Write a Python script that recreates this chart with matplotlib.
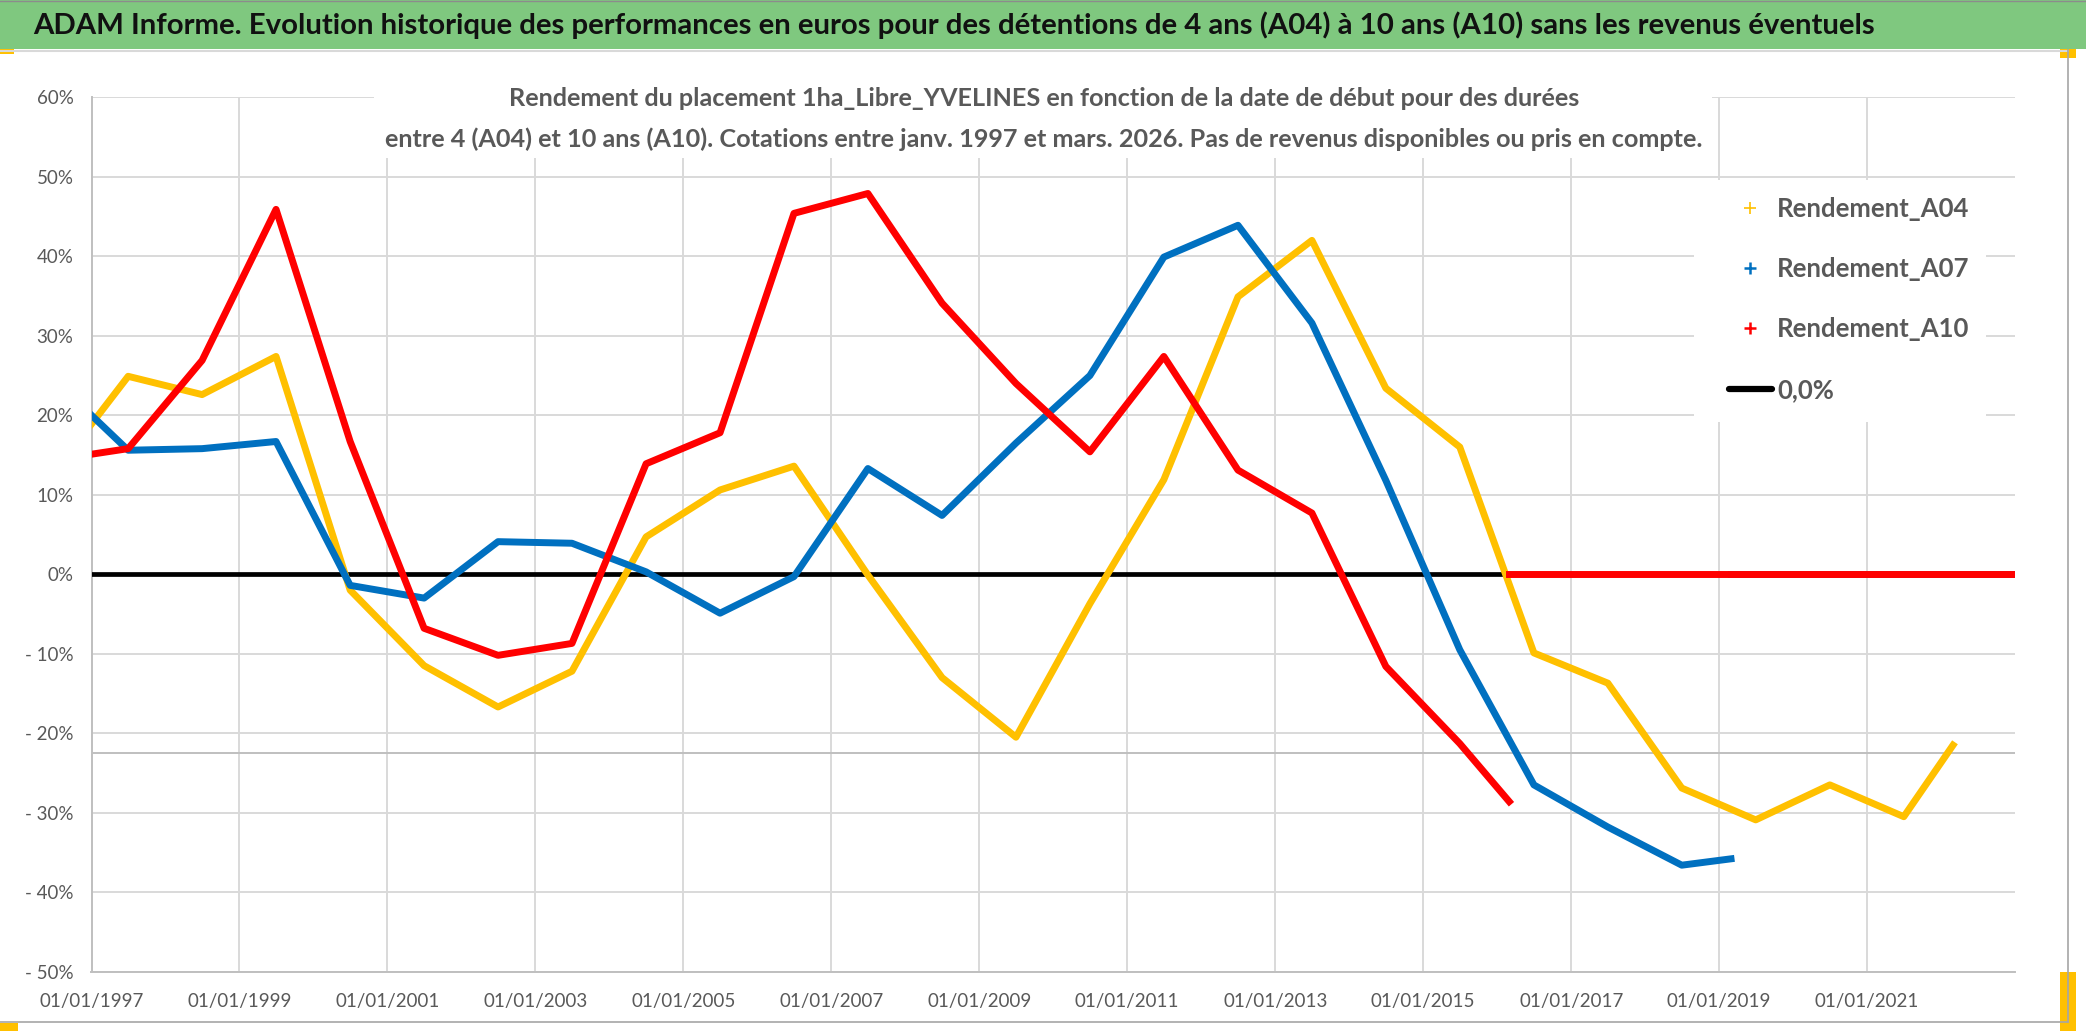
import matplotlib
matplotlib.use('Agg')
import matplotlib.pyplot as plt
import matplotlib.dates as mdates
from matplotlib import patches as ptc
from matplotlib.lines import Line2D
import pandas as pd

plt.rcParams['font.family'] = ['Lato', 'DejaVu Sans']

# ---- textes
titre = ("ADAM Informe. Evolution historique des performances en euros pour des "
         "détentions de 4 ans (A04) à 10 ans (A10) sans les revenus éventuels")
sous_titre_1 = ("Rendement du placement 1ha_Libre_YVELINES en fonction de la date "
                "de début pour des durées")
sous_titre_2 = ("entre 4 (A04) et 10 ans (A10). Cotations entre janv. 1997 et mars. 2026. "
                "Pas de revenus disponibles ou pris en compte.")
noms = ['Rendement_A04', 'Rendement_A07', 'Rendement_A10', '0,0%']

# ---- donnees (rendement en %)
a04_dates = ['1997-01-01', '1997-07-01', '1998-07-01', '1999-07-01', '2000-07-01',
             '2001-07-01', '2002-07-01', '2003-07-01', '2004-07-01', '2005-07-01',
             '2006-07-01', '2007-07-01', '2008-07-01', '2009-07-01', '2010-07-01',
             '2011-07-01', '2012-07-01', '2013-07-01', '2014-07-01', '2015-07-01',
             '2016-07-01', '2017-07-01', '2018-07-01', '2019-07-01', '2020-07-01',
             '2021-07-01', '2022-03-01']
a04 = [18.9, 24.9, 22.6, 27.4, -2.0, -11.5, -16.7, -12.2, 4.7, 10.6,
       13.6, -0.1, -13.0, -20.5, -3.7, 11.9, 34.9, 42.0, 23.4, 16.0,
       -9.9, -13.7, -26.9, -30.9, -26.5, -30.5, -21.5]

a07_dates = ['1997-01-01', '1997-07-01', '1998-07-01', '1999-07-01', '2000-07-01',
             '2001-07-01', '2002-07-01', '2003-07-01', '2004-07-01', '2005-07-01',
             '2006-07-01', '2007-07-01', '2008-07-01', '2009-07-01', '2010-07-01',
             '2011-07-01', '2012-07-01', '2013-07-01', '2014-07-01', '2015-07-01',
             '2016-07-01', '2017-07-01', '2018-07-01', '2019-03-01']
a07 = [20.0, 15.6, 15.8, 16.7, -1.4, -3.0, 4.1, 3.9, 0.3, -4.9,
       -0.3, 13.3, 7.4, 16.5, 25.0, 39.9, 43.9, 31.6, 11.8, -9.5,
       -26.5, -31.8, -36.6, -35.8]

a10_dates = ['1997-01-01', '1997-07-01', '1998-07-01', '1999-07-01', '2000-07-01',
             '2001-07-01', '2002-07-01', '2003-07-01', '2004-07-01', '2005-07-01',
             '2006-07-01', '2007-07-01', '2008-07-01', '2009-07-01', '2010-07-01',
             '2011-07-01', '2012-07-01', '2013-07-01', '2014-07-01', '2015-07-01',
             '2016-03-01']
a10 = [15.1, 15.8, 26.9, 45.9, 16.7, -6.8, -10.2, -8.7, 13.9, 17.8,
       45.4, 47.9, 34.1, 24.0, 15.4, 27.4, 13.1, 7.7, -11.6, -21.3,
       -28.6]

# apres la derniere date disponible, la serie vaut 0
debut_zero = ['2022-03-02', '2019-03-02', '2016-03-02']
date_debut = '1997-01-01'
date_fin = '2022-12-31'
ligne_grise = -22.45

x_ticks = ['1997-01-01', '1999-01-01', '2001-01-01', '2003-01-01', '2005-01-01',
           '2007-01-01', '2009-01-01', '2011-01-01', '2013-01-01', '2015-01-01',
           '2017-01-01', '2019-01-01', '2021-01-01']
y_ticks = [60, 50, 40, 30, 20, 10, 0, -10, -20, -30, -40, -50]

c_a04, c_a07, c_a10 = '#FFC000', '#0070C0', '#FF0000'
c_txt = '#595959'
c_grid = '#D9D9D9'

W, H = 2086, 1031
fig = plt.figure(figsize=(W / 100, H / 100), dpi=100)
fig.patch.set_facecolor('white')


def fx(px):
    return px / W


def fy(py):
    return 1 - py / H


ax = fig.add_axes([fx(91.5), fy(971.7), fx(2015) - fx(91.5), fy(97.3) - fy(971.7)])
ax.set_axisbelow(True)

d = pd.to_datetime
lw = 5.0
ax.plot(d([date_debut, date_fin]), [0, 0], color='black', lw=3.4, zorder=2,
        solid_capstyle='butt')
ax.plot(d(a04_dates), a04, color=c_a04, lw=lw, zorder=3)
ax.plot(d([debut_zero[0], date_fin]), [0, 0], color=c_a04, lw=lw, zorder=3)
ax.plot(d(a07_dates), a07, color=c_a07, lw=lw, zorder=4)
ax.plot(d([debut_zero[1], date_fin]), [0, 0], color=c_a07, lw=lw, zorder=4)
ax.plot(d(a10_dates), a10, color=c_a10, lw=lw, zorder=5)
ax.plot(d([debut_zero[2], date_fin]), [0, 0], color=c_a10, lw=lw, zorder=5)

ax.axhline(ligne_grise, color='#BFBFBF', lw=1.4, zorder=0.6)

ax.set_xlim(d('1997-01-01'), d('2023-01-01'))
ax.set_ylim(-50, 60)
ax.set_xticks(d(x_ticks))
ax.xaxis.set_major_formatter(mdates.DateFormatter('%d/%m/%Y'))
ax.set_yticks(y_ticks)
ax.set_yticklabels([f'{v}%' if v >= 0 else f'- {abs(v)}%' for v in y_ticks])
ax.tick_params(length=0, labelsize=13.5, labelcolor=c_txt)
ax.tick_params(axis='y', pad=13)
ax.tick_params(axis='x', pad=15)
ax.grid(True, color=c_grid, lw=1.4)
for s in ['top', 'right']:
    ax.spines[s].set_visible(False)
for s in ['left', 'bottom']:
    ax.spines[s].set_color('#BFBFBF')
    ax.spines[s].set_linewidth(1.4)
    ax.spines[s].set_zorder(0.7)

# caches blancs sous le sous-titre et la legende
for (x0, y0, x1, y1) in [(374, 55, 1712, 158), (1694, 180, 1986, 422)]:
    ax.add_patch(ptc.Rectangle((fx(x0), fy(y1)), fx(x1) - fx(x0), fy(y0) - fy(y1),
                               transform=fig.transFigure, facecolor='white',
                               edgecolor='none', zorder=1, clip_on=False))

# bandeau du titre
fig.patches.append(ptc.Rectangle((0, fy(49)), 1, fy(0) - fy(49), transform=fig.transFigure,
                                 facecolor='#7FC87F', edgecolor='none', zorder=0))
fig.add_artist(Line2D([0, 1], [fy(0.5), fy(0.5)], color='#8c8c8c', lw=1.0))
fig.add_artist(Line2D([0, fx(2068)], [fy(51), fy(51)], color='#D9D9D9', lw=1.5))
fig.add_artist(Line2D([fx(2068), fx(2068)], [fy(50), fy(1022)], color='#A6A6A6', lw=1.2))
fig.add_artist(Line2D([0, fx(2068)], [fy(1022), fy(1022)], color='#A6A6A6', lw=1.2))
for (x0, y0, x1, y1) in [(0, 49, 14, 54), (2060, 49, 2076, 58),
                         (2060, 972, 2076, 1031), (0, 1023, 18, 1031)]:
    fig.patches.append(ptc.Rectangle((fx(x0), fy(y1)), fx(x1) - fx(x0), fy(y0) - fy(y1),
                                     transform=fig.transFigure, facecolor='#FFC000',
                                     edgecolor='none'))

fig.text(fx(33), fy(25), titre, fontsize=21.2, fontweight='bold', color='#111111',
         va='center', ha='left')
fig.text(fx(1044), fy(106), sous_titre_1, fontsize=18.2, fontweight='bold', color=c_txt,
         ha='center', va='baseline', zorder=5)
fig.text(fx(1044), fy(147), sous_titre_2, fontsize=18.2, fontweight='bold', color=c_txt,
         ha='center', va='baseline', zorder=5)

handles = [Line2D([], [], color=c_a04, marker='+', ls='none', markersize=8, mew=1.2),
           Line2D([], [], color=c_a07, marker='+', ls='none', markersize=8, mew=1.8),
           Line2D([], [], color=c_a10, marker='+', ls='none', markersize=8, mew=1.8),
           Line2D([], [], color='black', lw=4.5, solid_capstyle='round')]
leg = fig.legend(handles, noms, loc='upper left', bbox_to_anchor=(fx(1729), fy(197)),
                 bbox_transform=fig.transFigure, frameon=False, borderpad=0,
                 borderaxespad=0, handlelength=1.67, handletextpad=0.2,
                 labelspacing=1.41, prop={'size': 18.5, 'weight': 'bold'})
for t in leg.get_texts():
    t.set_color(c_txt)

fig.savefig('out.png', dpi=100)
